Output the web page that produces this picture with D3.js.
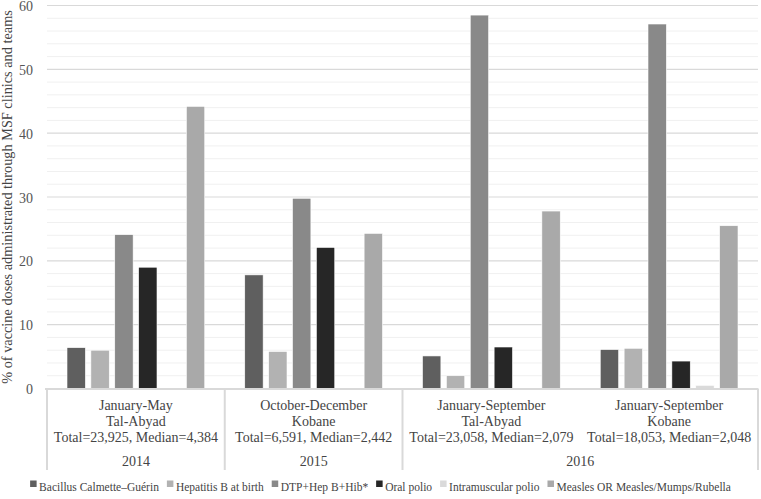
<!DOCTYPE html>
<html><head><meta charset="utf-8">
<script src="https://cdn.jsdelivr.net/npm/d3@7"></script>
<style>body{margin:0;background:#fff}svg{display:block}
svg text{font-family:"Liberation Serif","Times New Roman",Times,serif;}
</style>
</head><body><svg id="c" width="761" height="499"></svg>
<script>
const periods = ["January-May", "October-December", "January-September", "January-September"];
const places = ["Tal-Abyad", "Kobane", "Tal-Abyad", "Kobane"];
const totals = ["Total=23,925, Median=4,384", "Total=6,591, Median=2,442", "Total=23,058, Median=2,079", "Total=18,053, Median=2,048"];
const years = ["2014", "2015", "2016", "2016"];
const series = ["Bacillus Calmette\u2013Gu\u00e9rin", "Hepatitis B at birth", "DTP+Hep B+Hib*", "Oral polio", "Intramuscular polio", "Measles OR Measles/Mumps/Rubella"];
const colors = ["#5f5f5f", "#b2b2b2", "#898989", "#262626", "#dadada", "#a9a9a9"];
const bcg = [6.4, 17.8, 5.1, 6.1];
const hepB = [6.0, 5.8, 2.0, 6.3];
const dtp = [24.1, 29.8, 58.5, 57.1];
const oralPolio = [19.0, 22.1, 6.5, 4.3];
const imPolio = [0, 0, 0, 0.5];
const measles = [44.2, 24.3, 27.8, 25.5];
const yTicks = [0, 10, 20, 30, 40, 50, 60];
const values = [bcg, hepB, dtp, oralPolio, imPolio, measles];

const svg = d3.select("#c");
const L = 47, R = 758, T = 5.5, B = 388.5;
const x0 = d3.scaleBand().domain(d3.range(4)).range([L, R]).padding(0);
const gw = x0.bandwidth();
const x1 = d3.scaleBand().domain(d3.range(6)).range([20, gw - 20]).paddingInner(0.23).paddingOuter(0);
const y = d3.scaleLinear().domain([0, 60]).range([B, T]);

svg.append("g").selectAll("line").data(d3.range(0, 61, 2).filter(v => v % 10 !== 0)).join("line")
  .attr("x1", L).attr("x2", R).attr("y1", d => y(d)).attr("y2", d => y(d))
  .attr("stroke", "#f0f0f0").attr("stroke-width", 1);
svg.append("g").selectAll("line").data(yTicks.filter(v => v > 0)).join("line")
  .attr("x1", L).attr("x2", R).attr("y1", d => y(d)).attr("y2", d => y(d))
  .attr("stroke", "#d9d9d9").attr("stroke-width", 1.2);

const yAxis = d3.axisLeft(y).tickValues(yTicks).tickSize(0).tickPadding(0);
const ga = svg.append("g").attr("transform", `translate(${L - 14},0)`).call(yAxis);
ga.select(".domain").remove();
ga.attr("font-family", null);
ga.selectAll("text").attr("font-size", 14).attr("fill", "#555").attr("dy", "0.36em");

const groups = svg.append("g").selectAll("g").data(d3.range(4)).join("g")
  .attr("transform", i => `translate(${x0(i)},0)`);
groups.selectAll("rect").data(i => values.map((s, k) => ({k, v: s[i]}))).join("rect")
  .attr("x", d => x1(d.k)).attr("width", x1.bandwidth())
  .attr("y", d => y(d.v)).attr("height", d => y(0) - y(d.v))
  .attr("fill", d => colors[d.k]).attr("stroke", "#fff").attr("stroke-width", 0.6);

const sep = "#d9d9d9";
svg.append("line").attr("x1", L - 2).attr("x2", R).attr("y1", B + 0.5).attr("y2", B + 0.5).attr("stroke", sep).attr("stroke-width", 2);
[0, 1, 2, 4].forEach(i => {
  const xx = i < 4 ? x0(i) : R;
  svg.append("line").attr("x1", xx).attr("x2", xx).attr("y1", B).attr("y2", 470).attr("stroke", sep).attr("stroke-width", 2);
});

const lab = svg.append("g").attr("font-size", 14).attr("fill", "#444").attr("text-anchor", "middle");
d3.range(4).forEach(i => {
  const cx = x0(i) + gw / 2;
  lab.append("text").attr("x", cx).attr("y", 410).text(periods[i]);
  lab.append("text").attr("x", cx).attr("y", 426).text(places[i]);
  lab.append("text").attr("x", cx).attr("y", 442).text(totals[i]);
});
const yearGroups = d3.groups(d3.range(4), i => years[i]);
yearGroups.forEach(([yr, idx]) => {
  const a = x0(idx[0]), b = x0(idx[idx.length - 1]) + gw;
  lab.append("text").attr("x", (a + b) / 2).attr("y", 466).text(yr);
});

svg.append("text").attr("transform", `translate(12,${(T + B) / 2}) rotate(-90)`)
  .attr("text-anchor", "middle").attr("font-size", 14.3).attr("fill", "#444")
  .text("% of vaccine doses administrated through MSF clinics and teams");

const lg = svg.append("g").attr("font-size", 11.5).attr("fill", "#444");
let xx = 0;
series.forEach((s, k) => {
  const g = lg.append("g").attr("transform", `translate(${xx},0)`);
  g.append("rect").attr("x", 0).attr("y", 487 - 6.5).attr("width", 6.5).attr("height", 6.5).attr("fill", colors[k]);
  const t = g.append("text").attr("x", 9).attr("y", 491).text(s);
  xx += 9 + t.node().getComputedTextLength() + 8;
});
const totalW = xx - 8;
lg.attr("transform", `translate(${(761 - totalW) / 2},0)`);
</script></body></html>
